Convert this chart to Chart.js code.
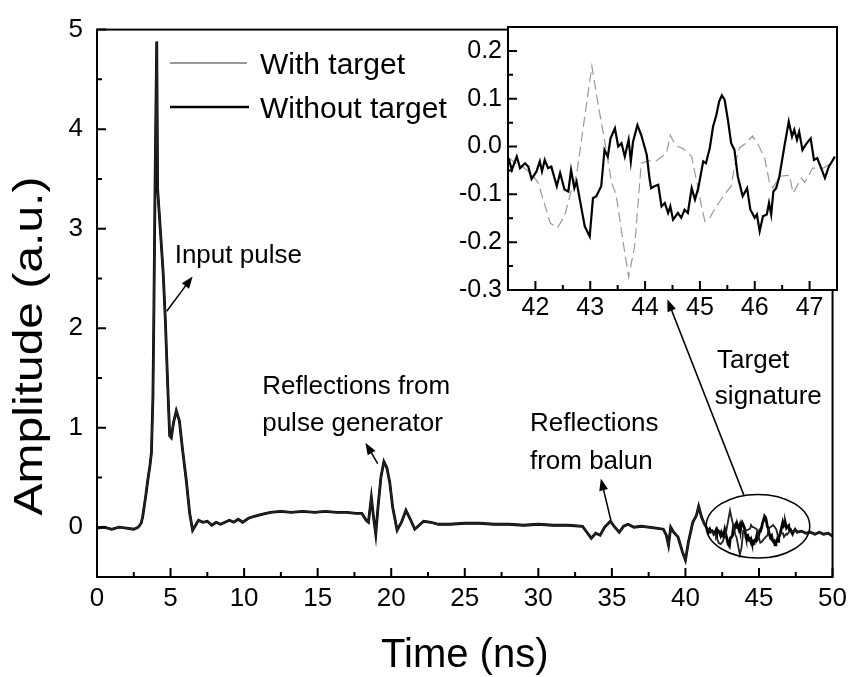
<!DOCTYPE html>
<html>
<head>
<meta charset="utf-8">
<script src="https://cdn.jsdelivr.net/npm/chart.js@4.4.1/dist/chart.umd.min.js"></script>
<style>
  html, body { margin: 0; padding: 0; background: #fff; }
  #wrap { position: relative; width: 853px; height: 677px; }
  #wrap canvas { position: absolute; left: 0; top: 0; }
</style>
</head>
<body>
<div id="wrap">
  <canvas id="main" width="853" height="677"></canvas>
  <canvas id="inset" width="853" height="677"></canvas>
</div>
<script>
// common part of both traces (0 - 41.5 ns)
const baseTime = [
  0, 0.5, 1, 1.5, 2, 2.5, 2.8, 3.0, 3.1, 3.3,
  3.45, 3.6, 3.7, 3.8, 3.86, 3.95, 4.06, 4.12, 4.3, 4.5,
  4.65, 4.8, 4.94, 5.05, 5.2, 5.39, 5.6, 5.8, 6.07, 6.3,
  6.5, 6.7, 6.9, 7.2, 7.5, 7.8, 8.1, 8.4, 8.7, 9.0,
  9.3, 9.6, 9.9, 10.3, 10.7, 11.2, 11.8, 12.5, 13.2, 14,
  14.8, 15.5, 16.3, 17, 17.6, 18, 18.3, 18.45, 18.65, 18.8,
  18.95, 19.1, 19.3, 19.5, 19.7, 19.9, 20.1, 20.4, 20.7, 21,
  21.3, 21.6, 21.9, 22.2, 22.7, 23.2, 24, 25, 26, 27,
  28, 29, 30, 31, 32, 33, 33.3, 33.6, 33.9, 34.2,
  34.5, 34.9, 35.2, 35.5, 35.8, 36.1, 36.5, 37, 37.5, 38,
  38.5, 38.7, 38.85, 39, 39.2, 39.5, 39.8, 40, 40.2, 40.5,
  40.75, 40.9, 41.1, 41.3
];
const baseAmp = [
  -0.01, 0.0, -0.02, 0.0, -0.01, -0.02, 0.0, 0.04, 0.1, 0.3,
  0.47, 0.62, 0.75, 1.3, 2.07, 3.5, 4.88, 3.4, 3.0, 2.55,
  2.07, 1.45, 0.92, 0.9, 1.05, 1.17, 1.07, 0.8, 0.47, 0.14,
  -0.03, 0.02, 0.07, 0.05, 0.06, 0.02, 0.05, 0.03, 0.05, 0.07,
  0.05, 0.08, 0.05, 0.09, 0.11, 0.13, 0.15, 0.16, 0.15, 0.16,
  0.15, 0.16, 0.15, 0.15, 0.14, 0.14, 0.07, 0.05, 0.3, 0.1,
  -0.07, 0.2, 0.5, 0.66, 0.6, 0.45, 0.2, -0.03, 0.05, 0.17,
  0.08, -0.02, 0.02, 0.06, 0.05, 0.03, 0.03, 0.04, 0.04, 0.03,
  0.03, 0.02, 0.03, 0.02, 0.02, 0.01, -0.05, -0.11, -0.06, -0.08,
  0.0, 0.06, 0.0, -0.05, 0.01, 0.03, 0.0, 0.01, 0.0, -0.01,
  -0.02, -0.08, -0.18, 0.0, -0.05, -0.1, -0.25, -0.33, -0.15, 0.05,
  0.12, 0.21, 0.1, 0.03
];

// target window, without target
const insetTime = [
  41.51, 41.57, 41.66, 41.72, 41.81, 41.87, 41.93, 42.02, 42.08, 42.12,
  42.17, 42.23, 42.29, 42.39, 42.45, 42.53, 42.60, 42.65, 42.71, 42.75,
  42.81, 42.90, 42.99, 43.05, 43.11, 43.20, 43.26, 43.32, 43.37, 43.45,
  43.51, 43.57, 43.63, 43.70, 43.74, 43.78, 43.86, 43.93, 44.03, 44.08,
  44.11, 44.17, 44.24, 44.30, 44.36, 44.42, 44.46, 44.51, 44.60, 44.66,
  44.72, 44.78, 44.85, 44.91, 44.97, 45.06, 45.11, 45.18, 45.24, 45.30,
  45.35, 45.40, 45.45, 45.51, 45.57, 45.63, 45.69, 45.78, 45.86, 45.92,
  46.00, 46.04, 46.09, 46.15, 46.22, 46.26, 46.30, 46.34, 46.39, 46.45,
  46.54, 46.62, 46.68, 46.72, 46.77, 46.81, 46.87, 46.93, 47.02, 47.08,
  47.14, 47.20, 47.28, 47.35, 47.41, 47.46
];
const insetWithout = [
  -0.024, -0.049, -0.021, -0.045, -0.035, -0.042, -0.068, -0.052, -0.031, -0.052,
  -0.028, -0.045, -0.042, -0.083, -0.055, -0.090, -0.094, -0.049, -0.087, -0.073,
  -0.111, -0.167, -0.188, -0.108, -0.104, -0.083, -0.007, -0.021, 0.017, 0.038,
  0.000, 0.007, -0.021, 0.014, -0.031, 0.010, 0.045, 0.024, -0.017, -0.066,
  -0.087, -0.083, -0.080, -0.125, -0.118, -0.139, -0.125, -0.153, -0.139, -0.149,
  -0.132, -0.139, -0.087, -0.111, -0.087, -0.031, -0.035, -0.003, 0.042, 0.066,
  0.094, 0.107, 0.098, 0.056, 0.007, -0.007, -0.062, -0.104, -0.087, -0.132,
  -0.149, -0.142, -0.177, -0.146, -0.142, -0.118, -0.142, -0.094, -0.087, -0.062,
  0.000, 0.052, 0.021, 0.035, 0.014, 0.031, -0.007, 0.004, 0.017, -0.028,
  -0.024, -0.042, -0.066, -0.042, -0.031, -0.021
];

// target window, with target
const insetTimeW = [
  41.51, 41.65, 41.80, 41.95, 42.05, 42.27, 42.40, 42.53, 42.66, 42.75,
  42.90, 43.03, 43.14, 43.26, 43.39, 43.47, 43.60, 43.70, 43.81, 43.93,
  44.05, 44.20, 44.39, 44.46, 44.55, 44.70, 44.85, 45.03, 45.09, 45.18,
  45.30, 45.45, 45.57, 45.63, 45.72, 45.84, 45.96, 46.08, 46.18, 46.27,
  46.33, 46.45, 46.63, 46.70, 46.85, 46.91, 47.06, 47.25, 47.40, 47.46
];
const insetWith = [
  -0.024, -0.035, -0.045, -0.060, -0.076, -0.160, -0.170, -0.146, -0.090, -0.060,
  0.063, 0.168, 0.090, 0.014, -0.076, -0.100, -0.200, -0.273, -0.208, -0.035,
  -0.030, -0.030, -0.014, 0.024, 0.003, -0.005, -0.021, -0.125, -0.156, -0.149,
  -0.125, -0.100, -0.083, -0.042, -0.003, 0.007, 0.022, 0.000, -0.024, -0.076,
  -0.087, -0.062, -0.060, -0.097, -0.066, -0.075, -0.045, -0.045, -0.035, -0.021
];

// after the window
const tailTime = [47.6, 47.9, 48.2, 48.5, 48.8, 49.1, 49.4, 49.7, 50];
const tailAmp = [-0.05, -0.04, -0.06, -0.05, -0.07, -0.05, -0.07, -0.06, -0.09];

const mainXTicks = [0, 5, 10, 15, 20, 25, 30, 35, 40, 45, 50];
const mainXMinor = [2.5, 7.5, 12.5, 17.5, 22.5, 27.5, 32.5, 37.5, 42.5, 47.5];
const mainYTicks = [0, 1, 2, 3, 4, 5];
const mainYMinor = [-0.5, 0.5, 1.5, 2.5, 3.5, 4.5];
const insetXTicks = [42, 43, 44, 45, 46, 47];
const insetXMinor = [41.5, 42.5, 43.5, 44.5, 45.5, 46.5];
const insetYTicks = [-0.3, -0.2, -0.1, 0.0, 0.1, 0.2];
const insetYMinor = [-0.25, -0.15, -0.05, 0.05, 0.15];

const FONT = '"Liberation Sans", Arial, Helvetica, sans-serif';
Chart.defaults.font.family = FONT;
Chart.defaults.color = '#000';

function toPoints(t, a) {
    return t.map((v, i) => ({ x: v, y: a[i] }));
}

const GRAY = '#999999';

// 内向きの目盛りと枠線
const framePlugin = {
    id: 'frame',
    afterDatasetsDraw(chart, args, o) {
        const { ctx, chartArea: a, scales } = chart;
        const x = scales.x, y = scales.y;
        ctx.save();
        ctx.strokeStyle = '#000';
        ctx.lineWidth = 2;
        ctx.beginPath();
        const tick = (list, len, horiz) => list.forEach(v => {
            if (horiz) {
                const p = x.getPixelForValue(v);
                ctx.moveTo(p, a.bottom); ctx.lineTo(p, a.bottom - len);
            } else {
                const p = y.getPixelForValue(v);
                ctx.moveTo(a.left, p); ctx.lineTo(a.left + len, p);
            }
        });
        tick(o.xMajor, 9, true); tick(o.xMinor, 5, true);
        tick(o.yMajor, 9, false); tick(o.yMinor, 5, false);
        ctx.stroke();
        ctx.strokeRect(a.left, a.top, a.right - a.left, a.bottom - a.top);
        ctx.restore();
    }
};

const whiteBg = {
    id: 'whiteBg',
    beforeDraw(chart) {
        const { ctx, chartArea: a } = chart;
        ctx.save();
        ctx.fillStyle = '#fff';
        ctx.fillRect(a.left, a.top, a.right - a.left, a.bottom - a.top);
        ctx.restore();
    }
};

function arrow(ctx, x1, y1, x2, y2) {
    const ang = Math.atan2(y2 - y1, x2 - x1), L = 12, W = 4.5;
    const c = Math.cos(ang), s = Math.sin(ang);
    ctx.beginPath();
    ctx.moveTo(x1, y1);
    ctx.lineTo(x2 - L * 0.7 * c, y2 - L * 0.7 * s);
    ctx.stroke();
    ctx.beginPath();
    ctx.moveTo(x2, y2);
    ctx.lineTo(x2 - L * c + W * s, y2 - L * s - W * c);
    ctx.lineTo(x2 - L * c - W * s, y2 - L * s + W * c);
    ctx.closePath();
    ctx.fill();
}

// 注釈・凡例・縦軸タイトル
const notesPlugin = {
    id: 'notes',
    afterDraw(chart) {
        const { ctx, scales: { x, y } } = chart;
        const px = v => x.getPixelForValue(v);
        const py = v => y.getPixelForValue(v);
        ctx.save();
        ctx.fillStyle = '#000';
        ctx.strokeStyle = '#000';

        // legend
        ctx.lineWidth = 1.3;
        ctx.strokeStyle = '#777';
        ctx.beginPath(); ctx.moveTo(170, 63); ctx.lineTo(247, 63); ctx.stroke();
        ctx.strokeStyle = '#000';
        ctx.lineWidth = 2.6;
        ctx.beginPath(); ctx.moveTo(170, 107); ctx.lineTo(249, 107); ctx.stroke();
        ctx.font = '30px ' + FONT;
        ctx.textBaseline = 'alphabetic';
        ctx.textAlign = 'left';
        ctx.fillText('With target', 260, 74);
        ctx.fillText('Without target', 260, 118);

        // labels
        ctx.font = '26px ' + FONT;
        const label = (t, xv, yv) => ctx.fillText(t, px(xv), py(yv));
        label('Input pulse', 5.28, 2.65);
        label('Reflections from', 11.23, 1.34);
        label('pulse generator', 11.23, 0.97);
        label('Reflections', 29.43, 0.97);
        label('from balun', 29.43, 0.59);
        label('Target', 42.15, 1.6);
        label('signature', 42.0, 1.24);

        // arrows
        ctx.lineWidth = 1.5;
        arrow(ctx, px(4.74), py(2.17), px(6.5), py(2.52));
        arrow(ctx, px(19.08), py(0.64), px(18.25), py(0.85));
        arrow(ctx, px(34.93), py(0.07), px(34.25), py(0.49));
        arrow(ctx, px(43.98), py(0.32), px(38.77), py(2.29));

        // ellipse round the target window
        const cx = px(44.93), cy = py(0.01);
        const rx = px(44.93 + 3.52) - cx, ry = cy - py(0.01 + 0.32);
        ctx.beginPath();
        ctx.ellipse(cx, cy, rx, ry, 0, 0, Math.PI * 2);
        ctx.stroke();

        // y axis title
        ctx.translate(42, 346);
        ctx.rotate(-Math.PI / 2);
        ctx.scale(1.2, 1);
        ctx.font = '40px ' + FONT;
        ctx.textAlign = 'center';
        ctx.fillText('Amplitude (a.u.)', 0, 0);
        ctx.restore();
    }
};

new Chart(document.getElementById('main'), {
    type: 'line',
    data: {
        datasets: [
            {
                label: 'With target',
                data: toPoints([...baseTime, ...insetTimeW, ...tailTime], [...baseAmp, ...insetWith, ...tailAmp]),
                borderColor: '#222',
                borderWidth: 1.8,
                pointRadius: 0,
                tension: 0,
            },
            {
                label: 'Without target',
                data: toPoints([...baseTime, ...insetTime, ...tailTime], [...baseAmp, ...insetWithout, ...tailAmp]),
                borderColor: '#000',
                borderWidth: 2.8,
                pointRadius: 0,
                tension: 0,
            }
        ]
    },
    options: {
        responsive: false,
        animation: false,
        devicePixelRatio: 1,
        layout: { padding: { left: 0, top: 27, right: 16, bottom: 0 } },
        plugins: {
            legend: { display: false },
            tooltip: { enabled: false },
            frame: { xMajor: mainXTicks, xMinor: mainXMinor, yMajor: mainYTicks, yMinor: mainYMinor }
        },
        scales: {
            x: {
                type: 'linear',
                min: 0, max: 50,
                afterBuildTicks: s => { s.ticks = mainXTicks.map(v => ({ value: v })); },
                afterFit: s => { s.height = 100; },
                grid: { display: false, drawTicks: false },
                border: { display: false },
                ticks: { font: { size: 26 }, padding: 6, maxRotation: 0 },
                title: {
                    display: true,
                    text: 'Time (ns)',
                    font: { size: 40, lineHeight: 1 },
                    padding: { top: 0, bottom: 1 }
                }
            },
            y: {
                min: -0.5, max: 5,
                afterBuildTicks: s => { s.ticks = mainYTicks.map(v => ({ value: v })); },
                afterFit: s => { s.width = 97; },
                grid: { display: false, drawTicks: false },
                border: { display: false },
                ticks: { font: { size: 26 }, padding: 14 }
            }
        }
    },
    plugins: [framePlugin, notesPlugin]
});

new Chart(document.getElementById('inset'), {
    type: 'line',
    data: {
        datasets: [
            {
                label: 'Without target',
                data: toPoints(insetTime, insetWithout),
                borderColor: '#000',
                borderWidth: 2.2,
                pointRadius: 0,
                tension: 0,
            },
            {
                label: 'With target',
                data: toPoints(insetTimeW, insetWith),
                borderColor: GRAY,
                borderWidth: 1.2,
                borderDash: [10, 5],
                pointRadius: 0,
                tension: 0,
            }
        ]
    },
    options: {
        responsive: false,
        animation: false,
        devicePixelRatio: 1,
        layout: { padding: { left: 448, top: 27, right: 16, bottom: 357 } },
        plugins: {
            legend: { display: false },
            tooltip: { enabled: false },
            frame: { xMajor: insetXTicks, xMinor: insetXMinor, yMajor: insetYTicks, yMinor: insetYMinor }
        },
        scales: {
            x: {
                type: 'linear',
                min: 41.5, max: 47.5,
                afterBuildTicks: s => { s.ticks = insetXTicks.map(v => ({ value: v })); },
                afterFit: s => { s.height = 30; },
                grid: { display: false, drawTicks: false },
                border: { display: false },
                ticks: { font: { size: 25 }, padding: 3, maxRotation: 0 }
            },
            y: {
                min: -0.3, max: 0.25,
                afterBuildTicks: s => { s.ticks = insetYTicks.map(v => ({ value: v })); },
                afterFit: s => { s.width = 60; },
                grid: { display: false, drawTicks: false },
                border: { display: false },
                ticks: { font: { size: 25 }, padding: 6, callback: v => v.toFixed(1) }
            }
        }
    },
    plugins: [whiteBg, framePlugin]
});
</script>
</body>
</html>
